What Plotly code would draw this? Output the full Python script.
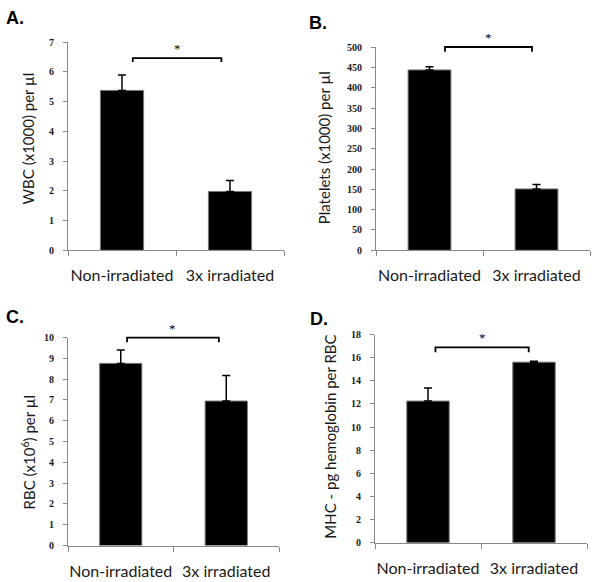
import plotly.graph_objects as go

categories = ["Non-irradiated", "3x irradiated"]
cat_pos = [0.5, 1.5]

panel_letters = ["A.", "B.", "C.", "D."]
y_titles = ["WBC (x1000) per µl", "Platelets (x1000) per µl",
            "RBC (x10<sup>6</sup>) per µl", "MHC - pg hemoglobin per RBC"]

wbc_values = [5.38, 1.98]
wbc_errors = [0.52, 0.37]
platelet_values = [444, 151]
platelet_errors = [8, 11]
rbc_values = [8.76, 6.95]
rbc_errors = [0.64, 1.23]
mhc_values = [12.25, 15.62]
mhc_errors = [1.13, 0.08]

y_max = [7, 500, 10, 18]
y_dtick = [1, 50, 1, 2]
bracket_level = [6.47, 500.5, 10.0, 16.9]
bracket_drop = [0.13, 12, 0.22, 0.42]
bracket_x = [[0.60, 1.42], [0.645, 1.458], [0.56, 1.43], [0.57, 1.45]]

values = [wbc_values, platelet_values, rbc_values, mhc_values]
errors = [wbc_errors, platelet_errors, rbc_errors, mhc_errors]

W, H = 594, 582
# plot-area boxes in pixels: (left, right, top, bottom)
boxes = [(68, 284, 38, 250), (376, 590, 43, 250), (68, 279, 339, 551), (375, 587, 336, 548)]
title_pos = [(28, 136), (324, 146), (28, 456), (330, 440)]
letter_pos = [(4, 13), (307, 18), (4, 318), (308, 320)]

AX = "#8a8a8a"
fig = go.Figure()
annotations = []
shapes = []
for i in range(4):
    xa = "x" if i == 0 else f"x{i+1}"
    ya = "y" if i == 0 else f"y{i+1}"
    l, r, t, b = boxes[i]
    fig.add_trace(go.Bar(
        x=cat_pos, y=values[i], width=0.4, xaxis=xa, yaxis=ya,
        marker=dict(color="black", line=dict(color="#777777", width=1)),
        error_y=dict(type="data", array=errors[i], arrayminus=[0, 0], symmetric=False,
                     color="black", thickness=1.5, width=4),
        showlegend=False, hoverinfo="skip"))
    xkey = "xaxis" if i == 0 else f"xaxis{i+1}"
    ykey = "yaxis" if i == 0 else f"yaxis{i+1}"
    fig.layout[xkey] = dict(
        domain=[l / W, r / W], anchor=ya, range=[0, 2], showline=True, linecolor=AX, linewidth=1,
        tickmode="array", tickvals=cat_pos, ticktext=categories, ticks="", showgrid=False,
        zeroline=False, ticklabelstandoff=11, ticklabeloverflow="allow",
        tickfont=dict(family="Lato", size=16, color="#1a1a1a"),
        minor=dict(tickmode="array", tickvals=[0, 1, 2], ticks="outside", ticklen=5,
                   tickcolor=AX, tickwidth=1, showgrid=False),
        fixedrange=True)
    fig.layout[ykey] = dict(
        domain=[(H - b) / H, (H - t) / H], anchor=xa, range=[0, y_max[i]], showline=True,
        linecolor=AX, linewidth=1, tickmode="linear", tick0=0, dtick=y_dtick[i],
        ticks="outside", ticklen=4, tickcolor=AX, showgrid=False, zeroline=False,
        ticklabelstandoff=7,
        tickfont=dict(family="Liberation Serif", size=10, color="#1a1a1a", weight="bold"),
        fixedrange=True)
    # significance bracket
    x0, x1 = bracket_x[i]
    lv = bracket_level[i] / y_max[i]
    dp = (bracket_level[i] - bracket_drop[i]) / y_max[i]
    shapes.append(dict(type="path", xref=xa, yref=f"{ya} domain",
                       path=f"M {x0},{dp} L {x0},{lv} L {x1},{lv} L {x1},{dp}",
                       line=dict(color="black", width=1.8)))
    annotations.append(dict(text="*", x=(x0 + x1) / 2, y=lv, xref=xa, yref=f"{ya} domain",
                            showarrow=False, yanchor="bottom", yshift=0,
                            font=dict(family="Liberation Serif", size=13, color="black")))
    tx, ty = title_pos[i]
    annotations.append(dict(text=y_titles[i], x=tx / W, y=(H - ty) / H, xref="paper", yref="paper",
                            showarrow=False, textangle=-90, xanchor="center", yanchor="middle",
                            font=dict(family="Lato", size=15, color="#1a1a1a")))
    px, py = letter_pos[i]
    annotations.append(dict(text=f"<b>{panel_letters[i]}</b>", x=px / W, y=(H - py) / H,
                            xref="paper", yref="paper", showarrow=False,
                            xanchor="left", yanchor="middle",
                            font=dict(family="Liberation Sans", size=18, color="black")))

fig.update_layout(width=W, height=H, margin=dict(l=0, r=0, t=0, b=0),
                  paper_bgcolor="white", plot_bgcolor="white",
                  annotations=annotations, shapes=shapes)
fig.write_html("out.html", config={"displayModeBar": False, "staticPlot": True},
               post_script="document.body.style.margin='0';document.body.style.overflow='hidden';")
